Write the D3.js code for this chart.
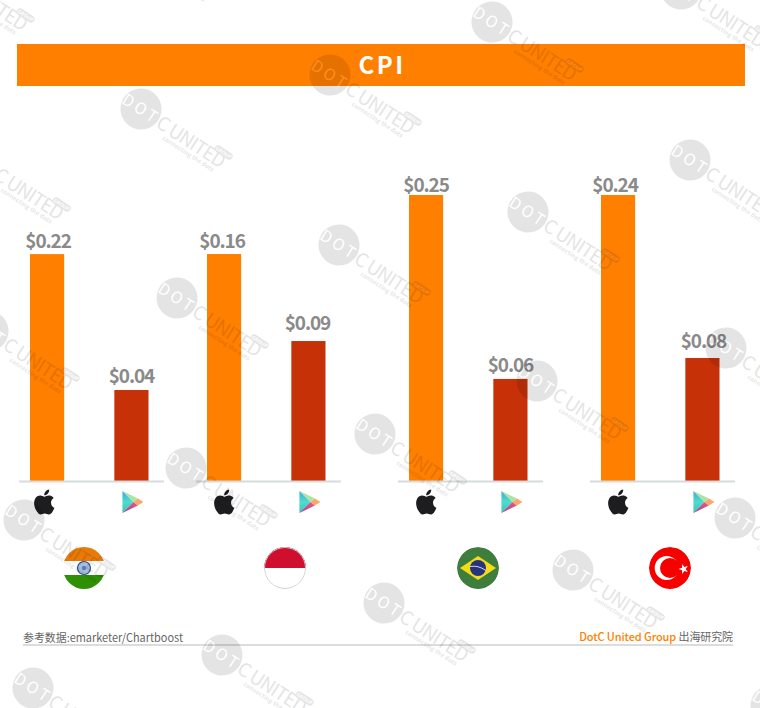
<!DOCTYPE html>
<html>
<head>
<meta charset="utf-8">
<script src="https://cdn.jsdelivr.net/npm/d3@7"></script>
<style>
html, body { margin: 0; padding: 0; background: #fff; }
svg { display: block; }
text { font-family: "Noto Sans CJK SC", "Noto Sans", sans-serif; }
</style>
</head>
<body>
<svg id="chart" width="760" height="708"></svg>
<script>
/************
** data
*************/
var countries = ["India", "Indonesia", "Brazil", "Turkey"];
var platforms = ["App Store", "Google Play"];
var appStoreCpi = [0.22, 0.16, 0.25, 0.24];
var googlePlayCpi = [0.04, 0.09, 0.06, 0.08];
// the source draws every country on its own axis, and none of them starts at zero
var axisFloor = [-0.0805, -0.0226, -0.0454, -0.0407];
var axisCeil = [0.2983, 0.2075, 0.25, 0.24];

/************
** colors
*************/
var orange = "#ff7f00";
var red = "#c63108";
var labelGrey = "#8a8a8a";
var axisGrey = "#d5dcdc";

/************
** layout
*************/
var svg = d3.select("#chart");
var baseY = 481, topY = 195;
var panelLeft = [19, 196, 398, 590];
var flagX = [84, 285, 478, 670];
var flagY = 568, flagR = 21;
// hand placed labels and icons, the source is not regular about them
var labelDx = [[1, 0], [-2, -1], [0, 0], [-3, 1]];
var labelGap = [[6, 7], [6, 11], [3, 7], [3, 10]];
var appleDx = [-3, 0, 0, 0];

var defs = svg.append("defs");
defs.append("clipPath").attr("id", "flagClip").append("circle").attr("r", flagR);
var playLeft = defs.append("linearGradient").attr("id", "playLeft")
    .attr("x1", 0).attr("y1", 0).attr("x2", 0).attr("y2", 1);
playLeft.append("stop").attr("offset", "0%").attr("stop-color", "#3aa7e0");
playLeft.append("stop").attr("offset", "50%").attr("stop-color", "#4fdccb");
playLeft.append("stop").attr("offset", "100%").attr("stop-color", "#37c4b4");
var playBottom = defs.append("linearGradient").attr("id", "playBottom")
    .attr("x1", 0).attr("y1", 1).attr("x2", 1).attr("y2", 0);
playBottom.append("stop").attr("offset", "0%").attr("stop-color", "#8e4aa6");
playBottom.append("stop").attr("offset", "100%").attr("stop-color", "#ee5a7e");

svg.append("rect")
    .attr("x", 17).attr("y", 44)
    .attr("width", 728).attr("height", 42)
    .attr("fill", orange);
svg.append("text")
    .attr("x", 382).attr("y", 74)
    .attr("text-anchor", "middle")
    .attr("fill", "#fff")
    .attr("font-size", 24).attr("font-weight", 700)
    .attr("letter-spacing", 2.5)
    .text("CPI");

/************
** bars
*************/
countries.forEach(function(country, i){
    var left = panelLeft[i];
    var values = [appStoreCpi[i], googlePlayCpi[i]];
    var x = d3.scaleBand().domain(platforms)
        .range([left + 11, left + 129.5])
        .paddingInner(0.595).paddingOuter(0);
    var y = d3.scaleLinear().domain([axisFloor[i], axisCeil[i]]).range([baseY, topY]);
    var panel = svg.append("g").attr("class", "panel");

    panel.selectAll("rect").data(values).enter().append("rect")
        .attr("x", function(d, j){ return x(platforms[j]); })
        .attr("y", function(d){ return y(d); })
        .attr("width", x.bandwidth())
        .attr("height", function(d){ return baseY - y(d); })
        .attr("fill", function(d, j){ return j === 0 ? orange : red; });

    panel.selectAll("text").data(values).enter().append("text")
        .attr("x", function(d, j){ return x(platforms[j]) + x.bandwidth() / 2 + labelDx[i][j]; })
        .attr("y", function(d, j){ return y(d) - labelGap[i][j]; })
        .attr("text-anchor", "middle")
        .attr("fill", labelGrey)
        .attr("font-size", 19).attr("font-weight", 700)
        .attr("letter-spacing", -1.1)
        .text(function(d){ return "$" + d3.format(".2f")(d); });

    panel.append("line")
        .attr("x1", left).attr("x2", left + 145)
        .attr("y1", baseY + 0.5).attr("y2", baseY + 0.5)
        .attr("stroke", axisGrey).attr("stroke-width", 2);

    drawApple(panel, x(platforms[0]) + x.bandwidth() / 2 + appleDx[i], 502);
    drawPlay(panel, x(platforms[1]) + x.bandwidth() / 2 + 1, 502);
    drawFlag(country, flagX[i], flagY, flagR);
});

/************
** icons
*************/
function drawApple(g, cx, cy){
    g.append("path")
        .attr("transform", "translate(" + (cx - 14.8) + "," + (cy - 15) + ") scale(1.25)")
        .attr("fill", "#1d1d1f")
        .attr("d", "M18.71 19.5c-.83 1.24-1.71 2.45-3.05 2.47-1.34.03-1.77-.79-3.29-.79-1.53 0-2 .77-3.27.82-1.31.05-2.3-1.32-3.14-2.53C4.25 17 2.94 12.45 4.7 9.39c.87-1.52 2.43-2.48 4.12-2.51 1.28-.02 2.5.87 3.29.87.78 0 2.26-1.07 3.81-.91.65.03 2.47.26 3.64 1.98-.09.06-2.17 1.28-2.15 3.81.03 3.02 2.65 4.03 2.68 4.04-.03.07-.42 1.44-1.38 2.83M13 3.5c.73-.83 1.94-1.46 2.94-1.5.13 1.17-.34 2.35-1.04 3.19-.69.85-1.83 1.51-2.95 1.42-.15-1.15.41-2.35 1.05-3.11z");
}

function drawPlay(g, cx, cy){
    var icon = g.append("g").attr("transform", "translate(" + (cx - 10) + "," + (cy - 11) + ")");
    icon.append("polygon").attr("points", "0,0 0,22 11,11").attr("fill", "url(#playLeft)");
    icon.append("polygon").attr("points", "0,0 11,11 15.5,7.5").attr("fill", "#a8e6a3");
    icon.append("polygon").attr("points", "0,22 11,11 15.5,14.5").attr("fill", "url(#playBottom)");
    icon.append("polygon").attr("points", "15.5,7.5 21,11 15.5,14.5 11,11").attr("fill", "#f9a76c");
}

function drawFlag(country, cx, cy, r){
    var g = svg.append("g").attr("transform", "translate(" + cx + "," + cy + ")")
        .attr("clip-path", "url(#flagClip)");
    if (country === "India") {
        g.append("rect").attr("x", -r).attr("y", -r).attr("width", 2 * r).attr("height", 14).attr("fill", "#e97a07");
        g.append("rect").attr("x", -r).attr("y", -7).attr("width", 2 * r).attr("height", 14).attr("fill", "#fff");
        g.append("rect").attr("x", -r).attr("y", 7).attr("width", 2 * r).attr("height", 14).attr("fill", "#2f8f05");
        g.append("circle").attr("r", 6.5).attr("fill", "#a9bedd").attr("stroke", "#2c4f93").attr("stroke-width", 1.2);
        g.append("circle").attr("r", 2.2).attr("fill", "#5a7cb8");
    }
    if (country === "Indonesia") {
        g.append("rect").attr("x", -r).attr("y", -r).attr("width", 2 * r).attr("height", r).attr("fill", "#cf0f2d");
        g.append("rect").attr("x", -r).attr("y", 0).attr("width", 2 * r).attr("height", r).attr("fill", "#fff");
        g.append("circle").attr("r", r - 0.5).attr("fill", "none").attr("stroke", "#cfcfcf");
    }
    if (country === "Brazil") {
        g.append("circle").attr("r", r).attr("fill", "#3f7d3d");
        g.append("polygon").attr("points", "-18,0 0,-12 18,0 0,12").attr("fill", "#f4dc1a");
        g.append("circle").attr("r", 8).attr("fill", "#27337c");
        g.append("path").attr("d", "M-8,-1.5Q0,-3 8,2.5").attr("fill", "none").attr("stroke", "#cfd6e6").attr("stroke-width", 1);
    }
    if (country === "Turkey") {
        g.append("circle").attr("r", r).attr("fill", "#f60000");
        g.append("circle").attr("cx", -3.3).attr("r", 12).attr("fill", "#fff");
        g.append("circle").attr("cx", 0).attr("r", 10).attr("fill", "#f60000");
        g.append("path")
            .attr("transform", "translate(13.7,1) rotate(-90)")
            .attr("fill", "#fff")
            .attr("d", d3.symbol().type(d3.symbolStar).size(30)());
    }
}

/************
** footer
*************/
svg.append("line")
    .attr("x1", 23).attr("x2", 733)
    .attr("y1", 645).attr("y2", 645)
    .attr("stroke", "#dcdcdc").attr("stroke-width", 2);
svg.append("text")
    .attr("x", 23).attr("y", 642)
    .attr("fill", "#666")
    .attr("font-size", 11.5)
    .attr("textLength", 160).attr("lengthAdjust", "spacingAndGlyphs")
    .text("参考数据:emarketer/Chartboost");
var credit = svg.append("text")
    .attr("x", 733).attr("y", 641)
    .attr("text-anchor", "end")
    .attr("font-size", 11)
    .attr("letter-spacing", -0.1);
credit.append("tspan").attr("fill", orange).attr("font-weight", 500).text("DotC United Group ");
credit.append("tspan").attr("fill", "#666").text("出海研究院");

/************
** watermark
*************/
var watermarkAnchors = [
    [-57, -28], [132, -61], [492, 22], [681, -11],
    [141, 109], [330, 75], [-21, 161], [339, 245], [528, 212], [690, 160],
    [-12, 331], [177, 298], [537, 381], [726, 348],
    [24, 520], [186, 468], [375, 434], [735, 518],
    [384, 603], [573, 570], [33, 688], [222, 655], [771, 706]
];
var marks = svg.selectAll(".mark").data(watermarkAnchors).enter().append("g")
    .attr("class", "mark")
    .attr("transform", function(d){ return "translate(" + d[0] + "," + d[1] + ") rotate(33)"; })
    .attr("opacity", 0.1);
marks.append("circle").attr("r", 20.5).attr("fill", "#000");
marks.append("text")
    .attr("text-anchor", "middle").attr("y", 5.5)
    .attr("font-size", 16).attr("font-weight", 400)
    .attr("letter-spacing", 3)
    .attr("fill", "#fff")
    .text("DOT");
marks.append("text")
    .attr("x", 21).attr("y", 7)
    .attr("font-size", 19).attr("font-weight", 400)
    .attr("textLength", 78).attr("lengthAdjust", "spacing")
    .attr("fill", "#000")
    .text("C UNITED");
marks.append("text")
    .attr("x", 34).attr("y", 14)
    .attr("font-size", 6).attr("font-weight", 700)
    .attr("textLength", 60)
    .attr("fill", "#000")
    .text("connecting the dots");
marks.append("rect")
    .attr("x", 83).attr("y", -12)
    .attr("width", 20).attr("height", 7).attr("rx", 3.5)
    .attr("fill", "#000");
marks.append("text")
    .attr("x", 93).attr("y", -6.5)
    .attr("text-anchor", "middle")
    .attr("font-size", 5).attr("font-weight", 700)
    .attr("fill", "#fff")
    .text("GROUP");
</script>
</body>
</html>
